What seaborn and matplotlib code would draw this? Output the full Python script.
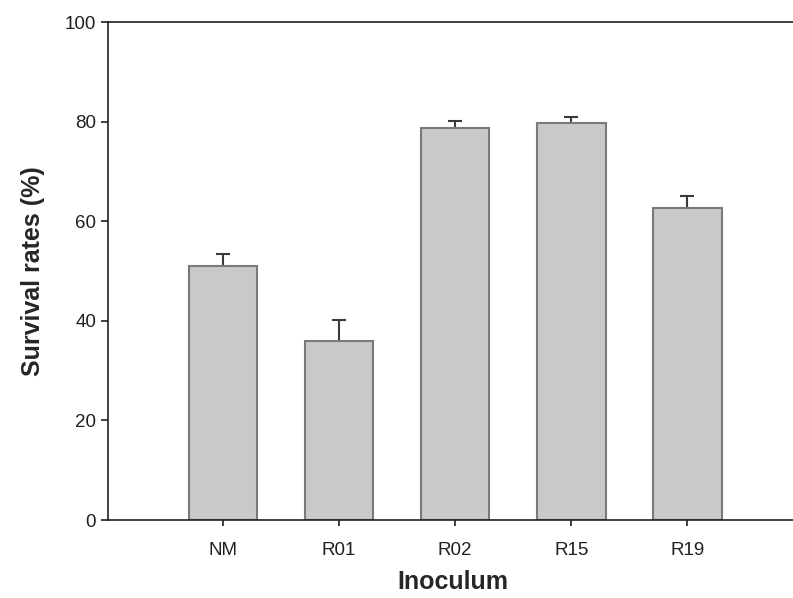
import seaborn as sns
import matplotlib.pyplot as plt
import pandas as pd

inoculum = ['NM', 'R01', 'R02', 'R15', 'R19']
survival = [51.0, 36.0, 78.7, 79.8, 62.6]
err_upper = [2.4, 4.2, 1.4, 1.2, 2.5]

sns.set_style('ticks')
plt.rcParams['font.family'] = ['Liberation Sans', 'DejaVu Sans']

df = pd.DataFrame({'Inoculum': inoculum, 'Survival': survival})

fig = plt.figure(figsize=(7.93, 5.98), dpi=100)
ax = fig.add_axes([0.136, 0.1304, 0.87, 0.8328])

sns.barplot(data=df, x='Inoculum', y='Survival', color='#c9c9c9',
            width=0.59, edgecolor='#7a7a7a', linewidth=1.5,
            saturation=1, ax=ax, zorder=2)
# symmetric bars drawn behind, so only the upper half shows
ax.errorbar(range(len(inoculum)), survival, yerr=err_upper,
            fmt='none', ecolor='#3a3a3a', elinewidth=1.5, capsize=5,
            capthick=1.5, zorder=1)

ax.set_xlim(-0.99, 4.95)
ax.set_ylim(0, 100)
ax.set_yticks([0, 20, 40, 60, 80, 100])
ax.tick_params(axis='both', labelsize=13.5, direction='out', length=5, width=1.2,
               colors='#202020')
ax.tick_params(axis='x', length=4, pad=12)
ax.set_xlabel('Inoculum', fontsize=18, fontweight='bold', labelpad=8)
ax.set_ylabel('Survival rates (%)', fontsize=18, fontweight='bold', labelpad=14)
for s in ['left', 'bottom', 'top']:
    ax.spines[s].set_linewidth(1.2)
    ax.spines[s].set_color('#202020')
ax.spines['right'].set_visible(False)

fig.savefig('out.png', dpi=100)
